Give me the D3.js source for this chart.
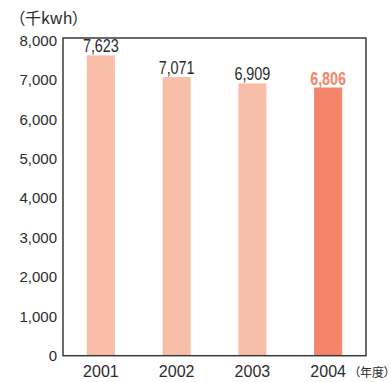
<!DOCTYPE html>
<html>
<head>
<meta charset="utf-8">
<script src="https://cdn.jsdelivr.net/npm/d3@7"></script>
<style>
  html, body { margin: 0; padding: 0; background: #fff; }
  svg { display: block; }
</style>
</head>
<body>
<svg id="chart" width="391" height="382"></svg>
<script>
// Electricity use per fiscal year (thousand kWh)
const years = ["2001", "2002", "2003", "2004"];
const usage = [7623, 7071, 6909, 6806];
const valueLabels = ["7,623", "7,071", "6,909", "6,806"];
const yTicks = [0, 1000, 2000, 3000, 4000, 5000, 6000, 7000, 8000];
const highlightYear = "2004";
const unitLabel = "（千kwh）";
const yearUnitLabel = "（年度）";

const svg = d3.select("#chart");
const plotLeft = 63, plotRight = 366, plotTop = 38, plotBottom = 355.7;

const x = d3.scaleBand().domain(years).range([plotLeft, plotRight]).paddingInner(0.63).paddingOuter(0.315);
const y = d3.scaleLinear().domain([0, 8000]).range([plotBottom, 40.5]);

const textColor = "#2b2b2b";
const lightBar = "#F9BEA8";
const darkBar = "#F4856A";

// bars
svg.append("g").selectAll("rect").data(years).join("rect")
  .attr("x", d => x(d))
  .attr("width", x.bandwidth())
  .attr("y", (d, i) => y(usage[i]))
  .attr("height", (d, i) => y(0) - y(usage[i]))
  .attr("fill", d => d === highlightYear ? darkBar : lightBar);

// frame
svg.append("rect")
  .attr("x", plotLeft).attr("y", plotTop)
  .attr("width", plotRight - plotLeft).attr("height", plotBottom - plotTop)
  .attr("fill", "none").attr("stroke", "#3a3a3a").attr("stroke-width", 1.5);

// y axis labels
const yAxis = d3.axisLeft(y).tickValues(yTicks).tickSize(0).tickPadding(6)
  .tickFormat(d3.format(","));
const gy = svg.append("g").attr("transform", `translate(${plotLeft},0)`).call(yAxis);
gy.select(".domain").remove();
gy.selectAll("text")
  .attr("fill", textColor)
  .style("font-family", "'Liberation Sans', Arial, sans-serif")
  .style("font-size", "15px");

// x axis labels
const xAxis = d3.axisBottom(x).tickSize(0).tickPadding(10);
const gx = svg.append("g").attr("transform", `translate(0,${plotBottom})`).call(xAxis);
gx.select(".domain").remove();
gx.selectAll("text")
  .attr("fill", textColor)
  .style("font-family", "'Liberation Sans', Arial, sans-serif")
  .style("font-size", "16px");

// value labels above bars
svg.append("g").selectAll("text").data(years).join("text")
  .attr("x", d => x(d) + x.bandwidth() / 2)
  .attr("y", (d, i) => y(usage[i]) - 3)
  .attr("text-anchor", "middle")
  .attr("textLength", 36)
  .attr("lengthAdjust", "spacingAndGlyphs")
  .attr("fill", d => d === highlightYear ? darkBar : textColor)
  .style("font-family", "'Liberation Sans', Arial, sans-serif")
  .style("font-weight", d => d === highlightYear ? "bold" : "normal")
  .style("font-size", "17.5px")
  .text((d, i) => valueLabels[i]);

// unit labels
svg.append("text")
  .attr("x", 17).attr("y", 24)
  .attr("fill", textColor)
  .style("font-family", "'Noto Sans CJK JP', sans-serif")
  .style("font-feature-settings", "'palt'")
  .style("font-size", "16px")
  .text(unitLabel);

svg.append("text")
  .attr("x", 354).attr("y", 377)
  .attr("fill", textColor)
  .style("font-family", "'Noto Sans CJK JP', sans-serif")
  .style("font-feature-settings", "'palt'")
  .style("font-size", "12px")
  .text(yearUnitLabel);
</script>
</body>
</html>
